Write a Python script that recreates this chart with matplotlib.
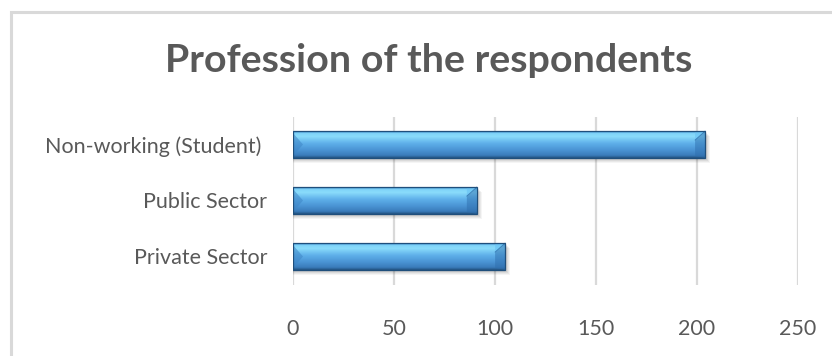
import numpy as np
import matplotlib
matplotlib.use("Agg")
import matplotlib.pyplot as plt
from matplotlib.colors import LinearSegmentedColormap
from matplotlib.patches import Polygon, Rectangle

categories = ["Private Sector", "Public Sector", "Non-working (Student) "]
values = [105, 91, 204]
x_ticks = [0, 50, 100, 150, 200, 250]
title = "Profession of the respondents"

TEXT = "#595959"
GRID = "#d9d9d9"
FONT = "Lato"

fig = plt.figure(figsize=(8.32, 3.56), dpi=100)
fig.patch.set_facecolor("white")

# chart frame
fig.patches.append(Rectangle((10.5 / 832, -0.1), 1.1, (356 - 12) / 356 + 0.1,
                             transform=fig.transFigure, fill=False,
                             edgecolor=GRID, linewidth=2.2))

ax = fig.add_axes([293 / 832, (356 - 284.5) / 356, 505 / 832, 168 / 356])
ax.set_facecolor("none")

bar_h = 0.48
ypos = np.arange(len(categories))

# vertical shading of the bevelled bars
bar_cmap = LinearSegmentedColormap.from_list(
    "bar", [(0.0, "#3b86c8"), (0.08, "#7fd2f8"), (0.2, "#8adcfb"),
            (0.45, "#5fb0ea"), (0.7, "#4a94d4"), (0.9, "#3a7cbb"),
            (1.0, "#22527f")])
grad = np.linspace(0, 1, 256).reshape(-1, 1)

px = 250 / 505.0          # data units per pixel along x
py = 3 / 168.0            # data units per pixel along y

for y, v in zip(ypos, values):
    top, bot = y + bar_h / 2, y - bar_h / 2
    # soft drop shadow
    for k, a in zip(range(5, 0, -1), [0.04, 0.05, 0.06, 0.07, 0.08]):
        ax.add_patch(Rectangle((0, bot - k * py), v + k * px, bar_h,
                               facecolor="#000000", alpha=a,
                               edgecolor="none", zorder=1))
    bar = ax.barh(y, v, height=bar_h, color="#4a94d4", zorder=2,
                  edgecolor="none")[0]
    im = ax.imshow(grad, extent=[0, v, bot, top], aspect="auto",
                   cmap=bar_cmap, origin="upper", zorder=3,
                   interpolation="bilinear")
    im.set_clip_path(bar)
    bev = 10 * px
    bevy = 9 * py
    # left chevron
    ax.add_patch(Polygon([(0, top - 2 * py), (bev, y), (0, bot + 2 * py)],
                         closed=True, facecolor="#3f86c6", alpha=0.55,
                         edgecolor="none", zorder=4))
    # right bevel: light upper facet and darker end face
    ax.add_patch(Polygon([(v - bev, top - bevy), (v, top), (v - bev, top)],
                         closed=True, facecolor="#6cc4f4", alpha=0.7,
                         edgecolor="none", zorder=4))
    ax.add_patch(Polygon([(v - bev, top - bevy), (v, top), (v, bot),
                          (v - bev, bot + 2 * py)],
                         closed=True, facecolor="#2f6fae", alpha=0.5,
                         edgecolor="none", zorder=4))
    ax.plot([v - bev, v], [top - bevy, top], color="#2a6aa6", lw=0.6,
            alpha=0.7, zorder=5)
    # outline
    ax.add_patch(Rectangle((0, bot), v, bar_h, fill=False,
                           edgecolor="#1f4f7c", linewidth=0.9, zorder=6))

ax.set_xlim(0, 250)
ax.set_ylim(-0.5, 2.5)
ax.set_xticks(x_ticks)
ax.set_xticklabels([str(t) for t in x_ticks])
ax.set_yticks(ypos)
ax.set_yticklabels(categories)
ax.grid(axis="x", color=GRID, linewidth=1.6, zorder=0)
ax.set_axisbelow(True)
for s in ax.spines.values():
    s.set_visible(False)
ax.tick_params(axis="both", length=0, colors=TEXT, labelsize=15.5)
ax.tick_params(axis="x", pad=25)
ax.tick_params(axis="y", pad=18.5)
for lab in ax.get_xticklabels() + ax.get_yticklabels():
    lab.set_fontfamily(FONT)

fig.text(428.5 / 832, (356 - 72) / 356, title, ha="center", va="baseline",
         fontsize=28.4, fontweight="bold", color=TEXT, family=FONT)

fig.savefig("out.png", dpi=100)
